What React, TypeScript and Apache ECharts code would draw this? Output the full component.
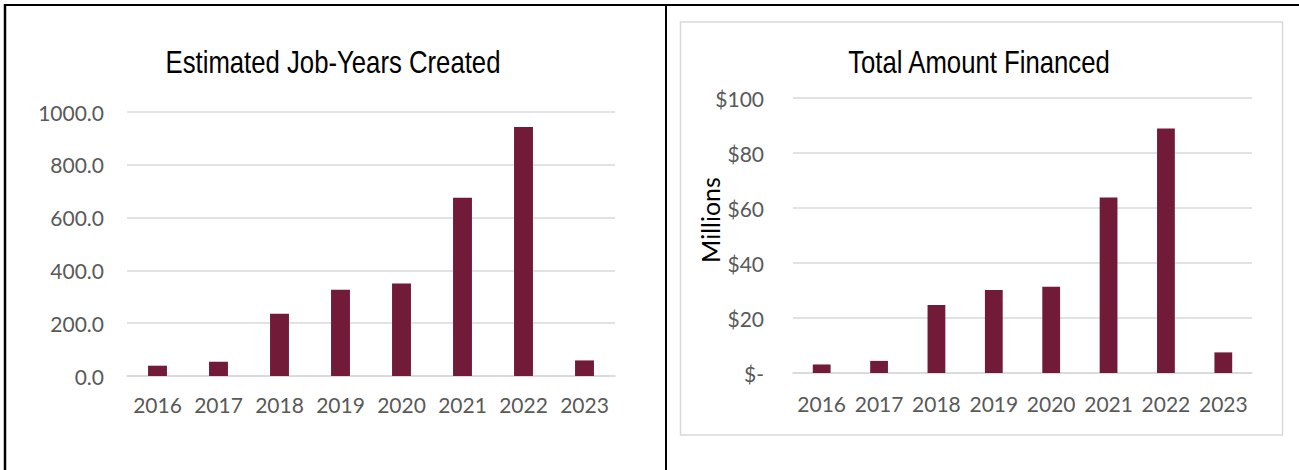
import React, { useEffect, useRef } from "react";
import * as echarts from "echarts";

const years = ["2016", "2017", "2018", "2019", "2020", "2021", "2022", "2023"];
const jobYears = [39, 54, 236, 327, 350, 675, 943, 59];
const amountMillions = [3.1, 4.4, 24.7, 30.2, 31.4, 63.8, 88.9, 7.5];
const jobTicks = { min: 0, max: 1000, interval: 200 };
const amountTicks = { min: 0, max: 100, interval: 20 };
const titles = ["Estimated Job-Years Created", "Total Amount Financed"];
const amountAxisName = "Millions";

const BAR = "#721b39";
const GRID = "#d9d9d9";
const LABEL = "#595959";
const AXIS_FONT = "Lato, 'Open Sans', sans-serif";
const TITLE_FONT = "'Liberation Sans', Arial, sans-serif";

export default function App() {
  const ref = useRef<HTMLDivElement>(null);
  useEffect(() => {
    if (!ref.current) return;
    const chart = echarts.init(ref.current, null, { renderer: "svg" });
    const catAxis = (gridIndex: number, margin: number) => ({
      type: "category",
      gridIndex,
      data: years,
      axisTick: { show: false },
      axisLine: { lineStyle: { color: GRID, width: 1.5 } },
      axisLabel: { color: LABEL, fontSize: 21, fontFamily: AXIS_FONT, margin, interval: 0 },
    });
    const valAxisBase = {
      type: "value",
      axisLine: { show: false },
      axisTick: { show: false },
      splitLine: { lineStyle: { color: GRID, width: 1.5 } },
    };
    const titleText = (text: string, x: number) => ({
      type: "text",
      x,
      y: 62,
      scaleX: 0.83,
      style: {
        text,
        font: "normal 31px " + TITLE_FONT,
        fill: "#000",
        textAlign: "center",
        textVerticalAlign: "middle",
      },
    });
    chart.setOption({
      animation: false,
      backgroundColor: "#ffffff",
      grid: [
        { left: 127, top: 112, width: 488, height: 264 },
        { left: 793, top: 98, width: 459, height: 275 },
      ],
      xAxis: [catAxis(0, 18), catAxis(1, 20)],
      yAxis: [
        {
          ...valAxisBase,
          gridIndex: 0,
          ...jobTicks,
          axisLabel: {
            color: LABEL,
            fontSize: 21,
            fontFamily: AXIS_FONT,
            margin: 23,
            formatter: (v: number) => v.toFixed(1),
          },
        },
        {
          ...valAxisBase,
          gridIndex: 1,
          ...amountTicks,
          axisLabel: {
            color: LABEL,
            fontSize: 21,
            fontFamily: AXIS_FONT,
            margin: 29,
            formatter: (v: number) => (v === 0 ? "$-" : "$" + v),
          },
        },
      ],
      series: [
        {
          type: "bar",
          xAxisIndex: 0,
          yAxisIndex: 0,
          data: jobYears,
          barWidth: "31%",
          itemStyle: { color: BAR },
        },
        {
          type: "bar",
          xAxisIndex: 1,
          yAxisIndex: 1,
          data: amountMillions,
          barWidth: "31%",
          itemStyle: { color: BAR },
        },
      ],
      graphic: [
        { type: "line", shape: { x1: 4, y1: 5, x2: 1299, y2: 5 }, style: { stroke: "#000", lineWidth: 2 } },
        { type: "line", shape: { x1: 5, y1: 4, x2: 5, y2: 470 }, style: { stroke: "#000", lineWidth: 2.5 } },
        { type: "line", shape: { x1: 666, y1: 4, x2: 666, y2: 470 }, style: { stroke: "#000", lineWidth: 2 } },
        {
          type: "rect",
          shape: { x: 680.5, y: 22, width: 602, height: 413 },
          style: { fill: "none", stroke: GRID, lineWidth: 1.5 },
        },
        titleText(titles[0], 333),
        titleText(titles[1], 979),
        {
          type: "text",
          x: 710,
          y: 220,
          rotation: Math.PI / 2,
          style: {
            text: amountAxisName,
            font: "normal 25px " + AXIS_FONT,
            fill: "#000",
            textAlign: "center",
            textVerticalAlign: "middle",
          },
        },
      ],
    });
    return () => chart.dispose();
  }, []);
  return (
    <div
      ref={ref}
      style={{ position: "absolute", left: 0, top: 0, width: 1299, height: 470, background: "#fff" }}
    />
  );
}
